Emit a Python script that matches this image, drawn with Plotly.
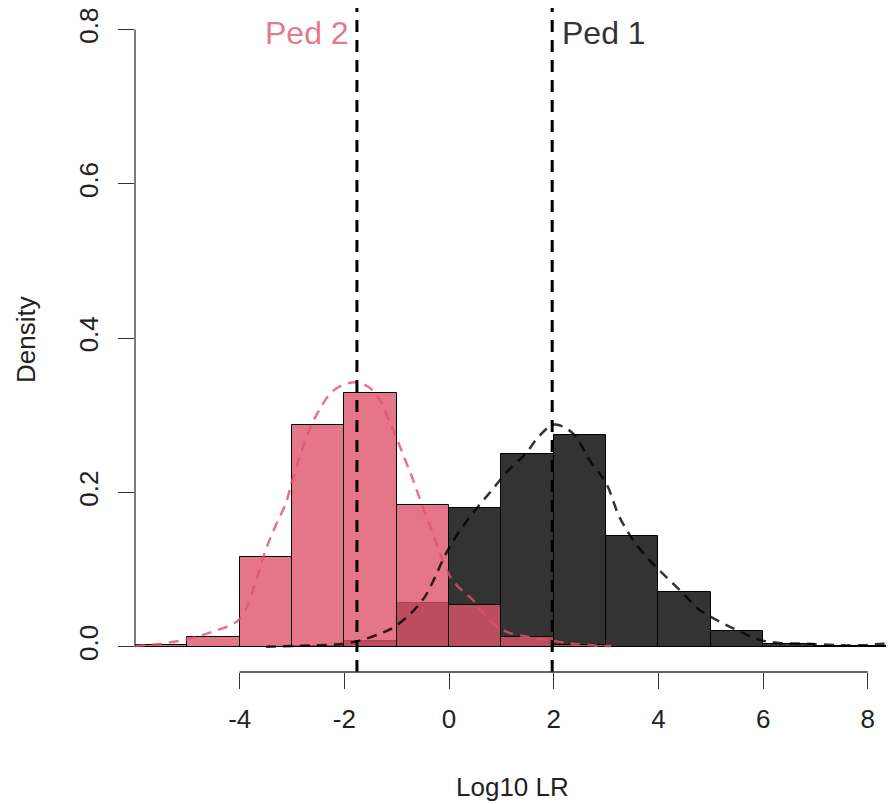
import plotly.graph_objects as go

# ---- data ----
bin_left = [-6, -5, -4, -3, -2, -1, 0, 1, 2, 3, 4, 5, 6, 7, 8]
ped1_density = [0.0, 0.0, 0.0, 0.001, 0.007, 0.057, 0.180, 0.250, 0.274, 0.143, 0.0705, 0.0203, 0.003, 0.001, 0.001]
ped2_density = [0.002, 0.013, 0.116, 0.287, 0.3285, 0.184, 0.0545, 0.0126, 0.0017, 0.0, 0.0, 0.0, 0.0, 0.0, 0.0]

ped2_kde_x = [-6.0, -5.5, -5.0, -4.5, -4.0, -3.7, -3.5, -3.32, -3.12, -2.99, -2.83, -2.67, -2.48,
              -2.23, -1.91, -1.66, -1.41, -1.10, -0.84, -0.69, -0.53, -0.34, -0.15, 0.04, 0.23,
              0.45, 0.76, 1.08, 1.53, 2.04, 2.49, 3.0, 3.1]
ped2_kde_y = [0.001, 0.004, 0.010, 0.020, 0.036, 0.083, 0.126, 0.156, 0.186, 0.217, 0.251, 0.281, 0.307,
              0.331, 0.342, 0.341, 0.329, 0.286, 0.2425, 0.217, 0.186, 0.152, 0.117, 0.089, 0.074,
              0.061, 0.035, 0.020, 0.0126, 0.007, 0.003, 0.001, 0.001]

ped1_kde_x = [-3.5, -3.0, -2.5, -2.0, -1.66, -1.28, -1.04, -0.72, -0.46, -0.27, -0.08, 0.19, 0.51,
              0.83, 1.08, 1.47, 1.72, 2.01, 2.36, 2.68, 3.0, 3.25, 3.51, 3.82, 4.14, 4.46, 4.78,
              5.16, 5.55, 5.93, 6.31, 6.82, 7.46, 7.9, 8.29, 8.5]
ped1_kde_y = [0.000, 0.001, 0.002, 0.004, 0.009, 0.018, 0.026, 0.044, 0.065, 0.090, 0.118, 0.149, 0.178,
              0.204, 0.225, 0.251, 0.273, 0.288, 0.277, 0.2425, 0.212, 0.169, 0.139, 0.113, 0.091, 0.070, 0.048,
              0.033, 0.020, 0.009, 0.005, 0.004, 0.002, 0.002, 0.004, 0.003]

ped_names = ["Ped 1", "Ped 2"]
ped_medians = [1.97, -1.76]

x_ticks = [-4, -2, 0, 2, 4, 6, 8]
y_ticks = [0.0, 0.2, 0.4, 0.6, 0.8]

# ---- styles ----
PINK = "rgba(223,83,107,0.8)"
DARK = "rgba(0,0,0,0.8)"
FONT = "Liberation Sans, Arial, sans-serif"
TXT = "#222222"
# the page body adds an 8px offset, so the figure is 8px smaller than the window
W, H = 886, 796
ML, MR, MT, MB = 127, 0, 0, 132

bin_centers = [b + 0.5 for b in bin_left]

fig = go.Figure()
fig.add_trace(go.Bar(x=bin_centers, y=ped1_density, width=1, marker=dict(color=DARK, line=dict(color="black", width=1)),
                     showlegend=False))
fig.add_trace(go.Bar(x=bin_centers, y=ped2_density, width=1, marker=dict(color=PINK, line=dict(color="black", width=1)),
                     showlegend=False))
fig.add_trace(go.Scatter(x=ped2_kde_x, y=ped2_kde_y, mode="lines", line=dict(color=PINK, width=2.5, dash="10px,7px", shape="spline"),
                         showlegend=False))
fig.add_trace(go.Scatter(x=ped1_kde_x, y=ped1_kde_y, mode="lines", line=dict(color=DARK, width=2.5, dash="10px,7px", shape="spline"),
                         showlegend=False))

shapes = []
for m in ped_medians:
    shapes.append(dict(type="line", xref="x", yref="paper", x0=m, x1=m, y0=0, y1=1,
                       line=dict(color="black", width=3, dash="12px,8px")))
# R-style detached axis lines
shapes.append(dict(type="line", xref="x", yref="paper", x0=x_ticks[0], x1=x_ticks[-1], y0=0, y1=0,
                   line=dict(color="#333333", width=1.3)))
shapes.append(dict(type="line", xref="paper", yref="y", x0=0, x1=0, y0=y_ticks[0], y1=y_ticks[-1],
                   line=dict(color="#333333", width=1.3)))

pw, ph = W - ML - MR, H - MT - MB
annotations = [
    dict(x=ped_medians[1], y=0.8, xref="x", yref="y", text=ped_names[1], showarrow=False,
         xanchor="right", yanchor="middle", xshift=-6, yshift=-3, font=dict(family=FONT, size=32, color=PINK)),
    dict(x=ped_medians[0], y=0.8, xref="x", yref="y", text=ped_names[0], showarrow=False,
         xanchor="left", yanchor="middle", xshift=8, yshift=-3, font=dict(family=FONT, size=32, color="#333333")),
    dict(x=(504 - ML) / pw, y=-(779 - (H - MB)) / ph, xref="paper", yref="paper", text="Log10 LR", showarrow=False,
         xanchor="center", yanchor="middle", font=dict(family=FONT, size=26, color=TXT)),
    dict(x=(18 - ML) / pw, y=0.5, xref="paper", yref="paper", text="Density", showarrow=False, textangle=-90,
         xanchor="center", yanchor="middle", font=dict(family=FONT, size=26, color=TXT)),
]

fig.update_layout(
    width=W, height=H,
    margin=dict(l=ML, r=MR, t=MT, b=MB, autoexpand=False),
    paper_bgcolor="white", plot_bgcolor="white",
    barmode="overlay", bargap=0,
    shapes=shapes, annotations=annotations,
    xaxis=dict(range=[-6, 8.5], tickmode="array", tickvals=x_ticks, ticktext=[str(v) for v in x_ticks],
               ticks="outside", ticklen=16, tickwidth=1.3, tickcolor="#333333", showline=False, showgrid=False,
               zeroline=False, automargin=False, tickfont=dict(family=FONT, size=26, color=TXT), ticklabelstandoff=8,
               ticklabeloverflow="allow"),
    yaxis=dict(range=[-0.0327, 0.828], tickmode="array", tickvals=y_ticks, ticktext=[f"{v:.1f}" for v in y_ticks],
               ticks="outside", ticklen=16, tickwidth=1.3, tickcolor="#333333", showline=False, showgrid=False,
               zeroline=False, automargin=False, tickangle=-90, tickfont=dict(family=FONT, size=26, color=TXT),
               ticklabelstandoff=10, ticklabeloverflow="allow"),
)

fig.write_html("out.html")
